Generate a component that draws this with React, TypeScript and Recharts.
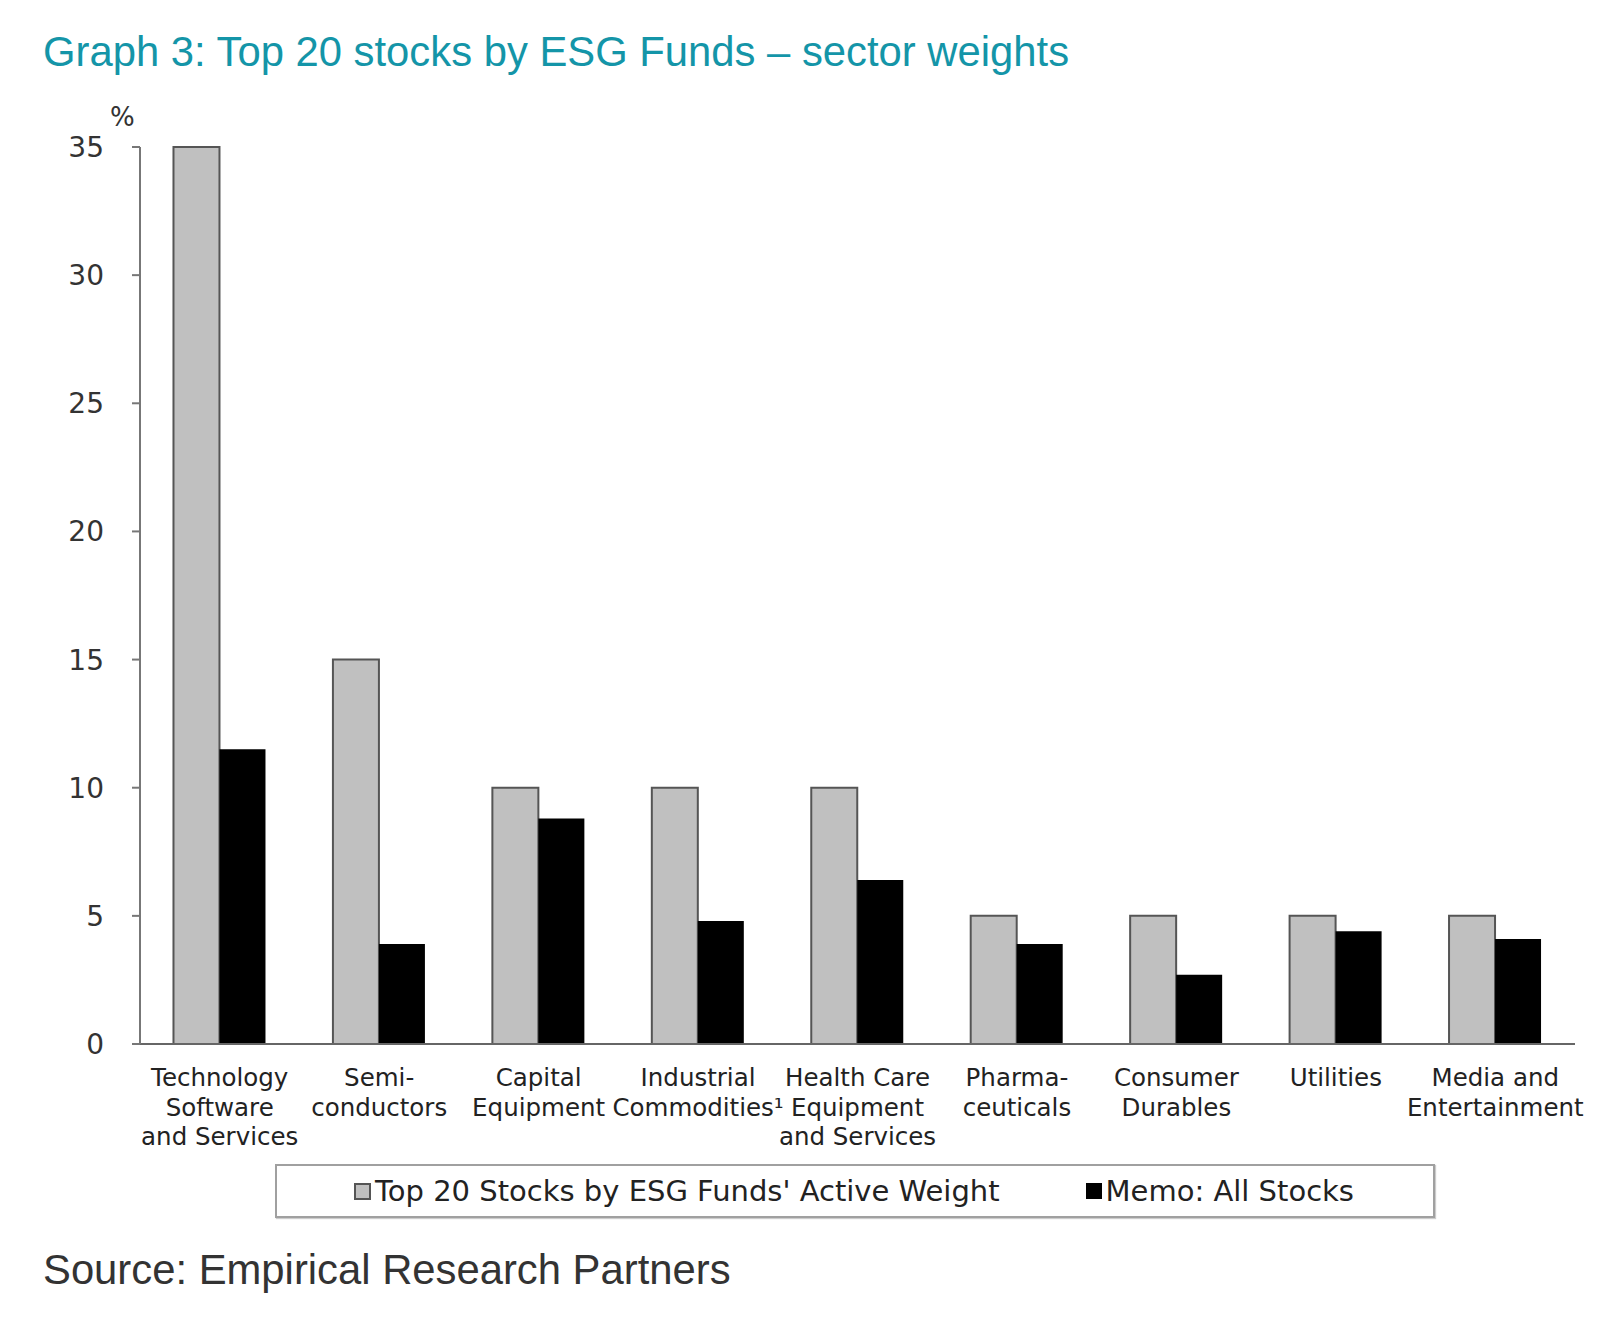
import React from 'react'
import { BarChart, Bar, XAxis, YAxis } from 'recharts'

// sector labels, \n marks the line breaks of the axis labels
const sectors = [
  'Technology\nSoftware\nand Services',
  'Semi-\nconductors',
  'Capital\nEquipment',
  'Industrial\nCommodities¹',
  'Health Care\nEquipment\nand Services',
  'Pharma-\nceuticals',
  'Consumer\nDurables',
  'Utilities',
  'Media and\nEntertainment',
]

const top20Weights = [35, 15, 10, 10, 10, 5, 5, 5, 5]
const allStocksWeights = [11.5, 3.9, 8.8, 4.8, 6.4, 3.9, 2.7, 4.4, 4.1]

const yTicks = [0, 5, 10, 15, 20, 25, 30, 35]

const seriesNames = {
  top20: "Top 20 Stocks by ESG Funds' Active Weight",
  memo: 'Memo: All Stocks',
}

const data = sectors.map((name, i) => ({
  name,
  top20: top20Weights[i],
  memo: allStocksWeights[i],
}))

const AXIS_FONT = '"DejaVu Sans", Verdana, sans-serif'
const TITLE_FONT = '"Liberation Sans", Arial, sans-serif'

const SectorTick = (props: any) => {
  const { x, y, payload } = props
  const lines = String(payload.value).split('\n')
  return (
    <text
      x={x}
      y={y}
      textAnchor="middle"
      fontFamily={AXIS_FONT}
      fontSize={24.5}
      fill="#222"
    >
      {lines.map((line, i) => (
        <tspan key={i} x={x} dy={i === 0 ? 34 : 29.6}>
          {line}
        </tspan>
      ))}
    </text>
  )
}

const LegendBox = () => (
  <div
    style={{
      position: 'absolute',
      left: 275,
      top: 1164,
      width: 1160,
      height: 54,
      border: '2px solid #a0a0a0',
      boxShadow: '1px 1px 1px #ccc',
      boxSizing: 'border-box',
      display: 'flex',
      alignItems: 'center',
      fontFamily: AXIS_FONT,
      fontSize: 29,
      color: '#222',
      paddingLeft: 77,
      whiteSpace: 'nowrap',
    }}
  >
    <span style={{ display: 'inline-block', width: 13, height: 13, background: '#c0c0c0', border: '2px solid #555', marginRight: 4 }} />
    <span>{seriesNames.top20}</span>
    <span style={{ display: 'inline-block', width: 16, height: 16, background: '#000', marginLeft: 86, marginRight: 4 }} />
    <span>{seriesNames.memo}</span>
  </div>
)

export default function App() {
  return (
    <div style={{ position: 'absolute', left: 0, top: 0, width: 1623, height: 1334, background: '#fff' }}>
      <div
        style={{
          position: 'absolute',
          left: 43,
          top: 28,
          fontFamily: TITLE_FONT,
          fontSize: 41.8,
          color: '#1495a8',
          whiteSpace: 'nowrap',
        }}
      >
        Graph 3: Top 20 stocks by ESG Funds – sector weights
      </div>
      <div
        style={{
          position: 'absolute',
          left: 110,
          top: 102,
          fontFamily: AXIS_FONT,
          fontSize: 26,
          color: '#333',
        }}
      >
        %
      </div>
      <div style={{ position: 'absolute', left: 0, top: 0 }}>
        <BarChart
          width={1623}
          height={1164}
          data={data}
          margin={{ top: 147, right: 48, bottom: 0, left: 0 }}
          barCategoryGap="21%"
          barGap={0}
        >
          <XAxis
            dataKey="name"
            interval={0}
            tick={<SectorTick />}
            tickLine={false}
            axisLine={{ stroke: '#666', strokeWidth: 2 }}
            height={120}
          />
          <YAxis
            domain={[0, 35]}
            ticks={yTicks}
            width={140}
            tickSize={8}
            tickMargin={28}
            axisLine={{ stroke: '#777', strokeWidth: 2 }}
            tickLine={{ stroke: '#777', strokeWidth: 2 }}
            tick={{ fontFamily: AXIS_FONT, fontSize: 28, fill: '#333' }}
          />
          <Bar
            dataKey="top20"
            name={seriesNames.top20}
            fill="#c0c0c0"
            stroke="#555"
            strokeWidth={2}
            isAnimationActive={false}
          />
          <Bar
            dataKey="memo"
            name={seriesNames.memo}
            fill="#000"
            isAnimationActive={false}
          />
        </BarChart>
      </div>
      <LegendBox />
      <div
        style={{
          position: 'absolute',
          left: 43,
          top: 1246,
          fontFamily: TITLE_FONT,
          fontSize: 41.8,
          color: '#333',
          whiteSpace: 'nowrap',
        }}
      >
        Source: Empirical Research Partners
      </div>
    </div>
  )
}
